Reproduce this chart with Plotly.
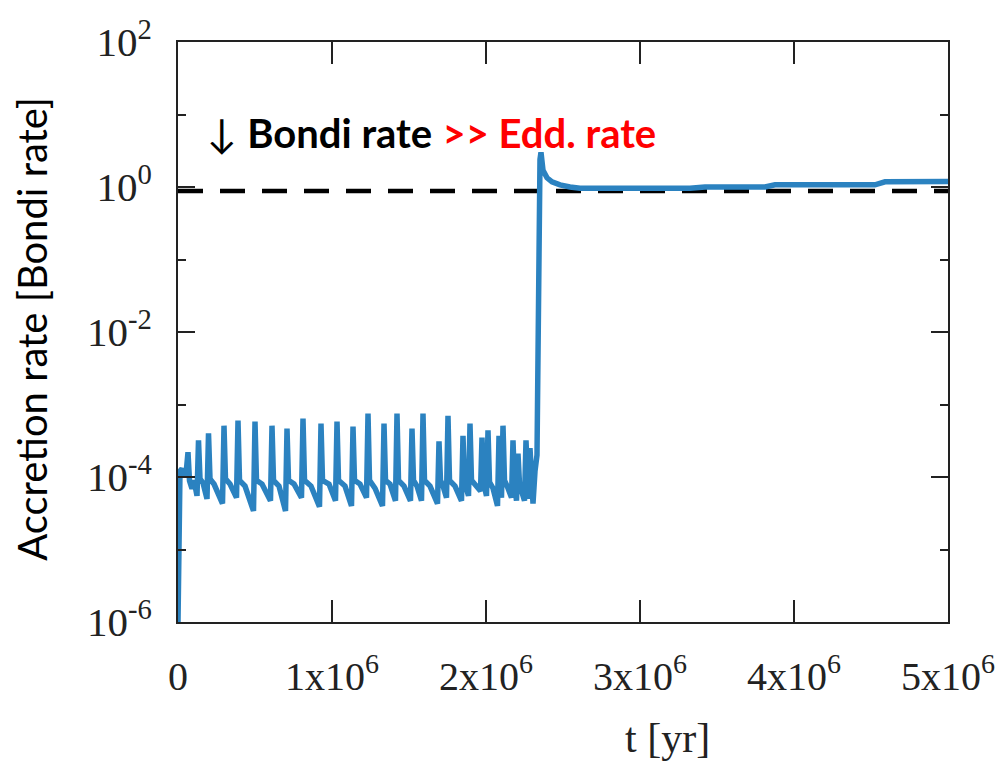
import plotly.graph_objects as go

# Accretion-rate history (time in years, rate in units of the Bondi rate)
t_yr = [0.0, 0.0032e6, 0.0130e6, 0.0260e6, 0.0390e6, 0.0552e6, 0.0649e6, 0.0747e6, 0.0909e6, 0.1039e6,
        0.1234e6, 0.1331e6, 0.1429e6, 0.1623e6, 0.1883e6, 0.1981e6, 0.2078e6, 0.2338e6, 0.2597e6, 0.2890e6,
        0.2987e6, 0.3084e6, 0.3377e6, 0.3799e6, 0.3896e6, 0.3994e6, 0.4351e6, 0.4903e6, 0.5000e6, 0.5097e6,
        0.5455e6, 0.6006e6, 0.6104e6, 0.6201e6, 0.6558e6, 0.6981e6, 0.7078e6, 0.7175e6, 0.7532e6, 0.8019e6,
        0.8117e6, 0.8214e6, 0.8636e6, 0.9188e6, 0.9286e6, 0.9383e6, 0.9805e6, 1.0227e6, 1.0325e6, 1.0422e6,
        1.0844e6, 1.1266e6, 1.1364e6, 1.1461e6, 1.1818e6, 1.2240e6, 1.2338e6, 1.2435e6, 1.2792e6, 1.3279e6,
        1.3377e6, 1.3474e6, 1.3766e6, 1.4123e6, 1.4221e6, 1.4318e6, 1.4675e6, 1.5097e6, 1.5195e6, 1.5292e6,
        1.5519e6, 1.5812e6, 1.5909e6, 1.6006e6, 1.6364e6, 1.6851e6, 1.6948e6, 1.7045e6, 1.7208e6, 1.7435e6,
        1.7532e6, 1.7630e6, 1.7987e6, 1.8409e6, 1.8506e6, 1.8604e6, 1.8864e6, 1.8961e6, 1.9058e6, 1.9351e6,
        1.9643e6, 1.9740e6, 1.9838e6, 2.0032e6, 2.0130e6, 2.0227e6, 2.0455e6, 2.0747e6, 2.0844e6, 2.0942e6,
        2.1006e6, 2.1104e6, 2.1201e6, 2.1429e6, 2.1656e6, 2.1753e6, 2.1851e6, 2.1981e6, 2.2078e6, 2.2175e6,
        2.2338e6, 2.2500e6, 2.2597e6, 2.2695e6, 2.2760e6, 2.2857e6, 2.2955e6, 2.3052e6, 2.3182e6, 2.3312e6,
        2.3506e6, 2.3571e6, 2.3701e6, 2.3961e6, 2.4286e6, 2.4805e6, 2.5455e6, 2.6104e6, 3.3247e6, 3.4221e6,
        3.8117e6, 3.8766e6, 4.5260e6, 4.5909e6, 5.0e6]
rate = [1.0e-6, 3.4e-5, 1.2e-4, 1.3e-4, 1.0e-4, 1.3e-4, 2.2e-4, 8.9e-5, 6.9e-5, 9.0e-5,
        5.5e-5, 3.2e-4, 9.4e-5, 8.3e-5, 5.0e-5, 4.0e-4, 9.4e-5, 8.0e-5, 6.0e-5, 4.3e-5,
        5.1e-4, 9.4e-5, 8.0e-5, 5.2e-5, 6.0e-4, 9.0e-5, 7.5e-5, 3.4e-5, 5.8e-4, 9.0e-5,
        8.0e-5, 4.7e-5, 5.1e-4, 9.0e-5, 7.5e-5, 3.4e-5, 4.65e-4, 9.0e-5, 8.0e-5, 5.2e-5,
        6.4e-4, 9.0e-5, 7.5e-5, 3.9e-5, 5.45e-4, 9.0e-5, 8.0e-5, 4.7e-5, 5.8e-4, 9.0e-5,
        7.5e-5, 4.0e-5, 4.95e-4, 9.0e-5, 8.0e-5, 5.2e-5, 7.5e-4, 9.0e-5, 7.0e-5, 4.0e-5,
        5.45e-4, 9.0e-5, 8.0e-5, 4.7e-5, 7.5e-4, 9.0e-5, 7.5e-5, 4.7e-5, 4.65e-4, 9.0e-5,
        7.5e-5, 4.7e-5, 7.5e-4, 9.0e-5, 7.5e-5, 4.3e-5, 3.1e-4, 9.0e-5, 7.5e-5, 5.2e-5,
        7.0e-4, 9.0e-5, 7.5e-5, 4.7e-5, 3.7e-4, 8.5e-5, 5.5e-5, 5.45e-4, 9.0e-5, 7.5e-5,
        6.4e-5, 3.5e-4, 8.5e-5, 5.5e-5, 4.4e-4, 8.5e-5, 7.0e-5, 4.0e-5, 3.7e-4, 7.0e-5,
        5.2e-5, 5.1e-4, 9.0e-5, 7.0e-5, 5.2e-5, 3.2e-4, 8.0e-5, 4.7e-5, 2.1e-4, 8.0e-5,
        6.5e-5, 4.7e-5, 3.2e-4, 7.5e-5, 5.0e-5, 2.5e-4, 7.0e-5, 4.3e-5, 1.2e-4, 2.0e-4,
        2.4, 3.0, 1.7, 1.34, 1.18, 1.07, 1.0, 0.96, 0.96, 1.0,
        1.0, 1.07, 1.07, 1.18, 1.19]

# Eddington-limited rate (dashed reference line)
edd_t = [0.0, 5.0e6]
edd_rate = [0.88, 0.88]

# Tick labels
x_tickvals = [0, 1e6, 2e6, 3e6, 4e6, 5e6]
x_ticktext = ["0", "1x10<sup>6</sup>", "2x10<sup>6</sup>", "3x10<sup>6</sup>", "4x10<sup>6</sup>", "5x10<sup>6</sup>"]
y_tickvals = [1e-6, 1e-4, 1e-2, 1, 1e2]
y_ticktext = ["10<sup>-6</sup>", "10<sup>-4</sup>", "10<sup>-2</sup>", "10<sup>0</sup>", "10<sup>2</sup>"]
y_minorvals = [1e-5, 1e-3, 1e-1, 1e1]

fig = go.Figure()
fig.add_trace(go.Scatter(x=edd_t, y=edd_rate, mode="lines",
                         line=dict(color="black", width=4.5, dash="25px,17px"),
                         showlegend=False, hoverinfo="skip"))
fig.add_trace(go.Scatter(x=t_yr, y=rate, mode="lines",
                         line=dict(color="#2b82c0", width=5.5),
                         showlegend=False))

serif = "Liberation Serif"
fig.update_layout(
    width=1007, height=773,
    margin=dict(l=178, r=59, t=42, b=151),
    paper_bgcolor="white", plot_bgcolor="white",
    xaxis=dict(range=[0, 5e6], tickmode="array", tickvals=x_tickvals, ticktext=x_ticktext,
               ticks="inside", ticklen=22, tickwidth=2, tickcolor="#222",
               showline=True, linewidth=2, linecolor="#222", mirror="ticks",
               showgrid=False, zeroline=False, ticklabelstandoff=18,
               tickfont=dict(family=serif, size=40, color="#222")),
    yaxis=dict(type="log", range=[-6, 2], tickmode="array", tickvals=y_tickvals, ticktext=y_ticktext,
               ticks="inside", ticklen=17, tickwidth=2, tickcolor="#222",
               minor=dict(tickmode="array", tickvals=y_minorvals, ticks="inside", ticklen=8,
                          tickwidth=2, tickcolor="#222", showgrid=False),
               showline=True, linewidth=2, linecolor="#222", mirror="ticks",
               showgrid=False, zeroline=False, ticklabelstandoff=16,
               tickfont=dict(family=serif, size=41, color="#222")),
    annotations=[
        dict(text="t [yr]", xref="paper", yref="paper", x=0.636, y=-0.2,
             xanchor="center", yanchor="middle", showarrow=False,
             font=dict(family=serif, size=42, color="#222")),
        dict(text="Accretion rate [Bondi rate]", xref="paper", yref="paper", x=-0.19, y=0.505,
             xanchor="center", yanchor="middle", textangle=-90, showarrow=False,
             font=dict(family="Lato", size=40, color="black")),
        dict(text="↓ <b>Bondi rate</b> <b><span style='color:#ff0000'>&gt;&gt; Edd. rate</span></b>",
             xref="paper", yref="paper", x=0.035, y=0.843,
             xanchor="left", yanchor="middle", showarrow=False,
             font=dict(family="Lato", size=40, color="black")),
    ],
)

fig.write_html("out.html")
